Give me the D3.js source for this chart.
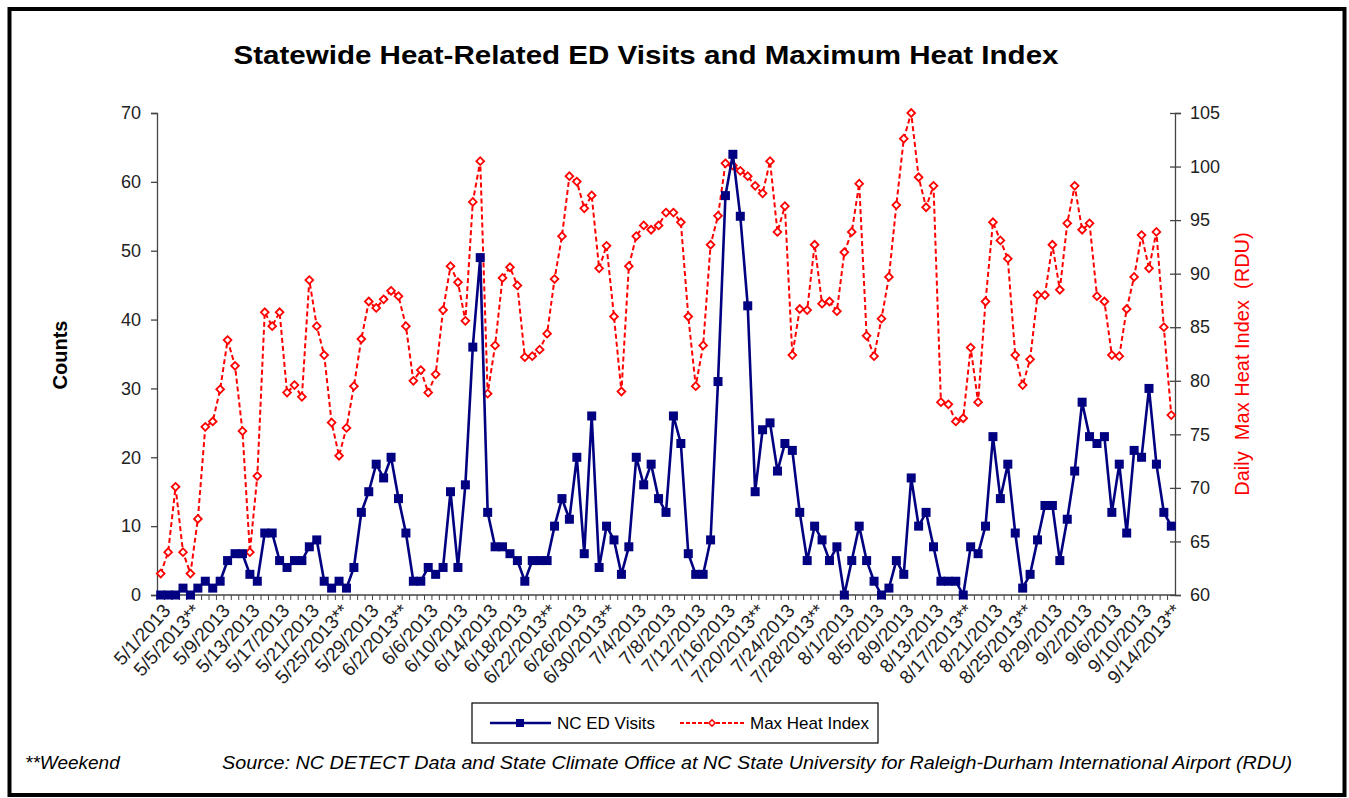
<!DOCTYPE html>
<html>
<head>
<meta charset="utf-8">
<script src="https://cdn.jsdelivr.net/npm/d3@7"></script>
<style>
  html, body { margin: 0; padding: 0; background: #fff; }
  svg { display: block; font-family: "Liberation Sans", Arial, sans-serif; }
</style>
</head>
<body>
<svg id="chart" width="1349" height="798"></svg>
<script>
// ---------------- DATA ----------------
const startDate = "2013-05-01";
const endDate = "2013-09-14";
const weekendTickDates = ["5/5/2013","5/25/2013","6/2/2013","6/22/2013","6/30/2013","7/20/2013","7/28/2013","8/17/2013","8/25/2013","9/14/2013"];

const edVisits = [
  0,0,0,1,0,1,2,1,2,5, 6,6,3,2,9,9,5,4,5,5,
  7,8,2,1,2,1,4,12,15,19, 17,20,14,9,2,2,4,3,4,15,
  4,16,36,49,12,7,7,6,5,2, 5,5,5,10,14,11,20,6,26,4,
  10,8,3,7,20,16,19,14,12,26, 22,6,3,3,8,31,58,64,55,42,
  15,24,25,18,22,21,12,5,10,8, 5,7,0,5,10,5,2,0,1,5,
  3,17,10,12,7,2,2,2,0,7, 6,10,23,14,19,9,1,3,8,13,
  13,5,11,18,28,23,22,23,12,19, 9,21,20,30,19,12,10
];

const maxHeatIndex = [
  62,64,70.1,64,62,67.1,75.7,76.2,79.2,83.8, 81.4,75.3,64,71.1,86.4,85.1,86.4,78.9,79.6,78.5,
  89.4,85.1,82.4,76.1,73,75.6,79.5,83.9,87.4,86.8, 87.6,88.4,87.9,85.1,80,81,78.9,80.6,86.6,90.7,
  89.2,85.6,96.7,100.5,78.8,83.3,89.6,90.6,88.9,82.2, 82.3,82.9,84.4,89.5,93.5,99.1,98.6,96.1,97.3,90.5,
  92.6,86,79,90.7,93.5,94.5,94.1,94.5,95.7,95.7, 94.8,86,79.5,83.3,92.7,95.4,100.3,100.1,99.6,99.1,
  98.2,97.5,100.5,93.9,96.3,82.4,86.7,86.6,92.7,87.2, 87.4,86.5,92,93.9,98.4,84.2,82.3,85.8,89.7,96.4,
  102.6,105,99,96.2,98.2,78,77.8,76.2,76.5,83.1, 78,87.4,94.8,93.1,91.4,82.4,79.6,82,88,88,
  92.7,88.5,94.7,98.2,94.1,94.7,87.9,87.4,82.4,82.3, 86.7,89.7,93.6,90.5,93.9,85,76.8
];

const leftTicks = [0,10,20,30,40,50,60,70];
const rightTicks = [60,65,70,75,80,85,90,95,100,105];

const titleText = "Statewide Heat-Related ED Visits and Maximum Heat Index";
const leftAxisTitle = "Counts";
const rightAxisTitle = "Daily  Max Heat Index  (RDU)";
const seriesNames = ["NC ED Visits", "Max Heat Index"];
const footLeft = "**Weekend";
const footSource = "Source: NC DETECT Data and State Climate Office at NC State University for Raleigh-Durham International Airport (RDU)";

// ---------------- BUILD ----------------
const parse = d3.timeParse("%Y-%m-%d");
const fmt = d => `${d.getMonth()+1}/${d.getDate()}/${d.getFullYear()}`;
const days = d3.timeDay.range(parse(startDate), d3.timeDay.offset(parse(endDate), 1));
const categories = days.map(fmt);
const tickLabel = c => weekendTickDates.includes(c) ? c + "**" : c;

const svg = d3.select("#chart");
const plot = { left: 157, right: 1175, top: 113, bottom: 595 };

const x = d3.scaleBand().domain(categories).range([plot.left, plot.right]).padding(0);
const yL = d3.scaleLinear().domain([0, 70]).range([plot.bottom, plot.top]);
const yR = d3.scaleLinear().domain([60, 105]).range([plot.bottom, plot.top]);
const cx = c => x(c) + x.bandwidth() / 2;

// outer border
svg.append("rect").attr("x", 9.5).attr("y", 9).attr("width", 1335).attr("height", 786)
  .attr("fill", "#fff").attr("stroke", "#000").attr("stroke-width", 4);

// title
svg.append("text").attr("x", 646).attr("y", 64).attr("text-anchor", "middle")
  .attr("font-size", 25).attr("font-weight", "bold").attr("fill", "#000")
  .attr("textLength", 825).attr("lengthAdjust", "spacingAndGlyphs").text(titleText);

// left axis
const gL = svg.append("g").attr("transform", `translate(${plot.left},0)`)
  .call(d3.axisLeft(yL).tickValues(leftTicks).tickSize(6).tickPadding(10).tickFormat(d3.format("d")));
gL.select(".domain").attr("stroke", "#444").attr("stroke-width", 1.3);
gL.selectAll(".tick line").attr("stroke", "#444").attr("stroke-width", 1.3);
gL.selectAll(".tick text").attr("font-size", 18).attr("fill", "#222").attr("font-family", "Liberation Sans, Arial");

// right axis
const gR = svg.append("g").attr("transform", `translate(${plot.right},0)`)
  .call(d3.axisRight(yR).tickValues(rightTicks).tickSize(6).tickPadding(9).tickFormat(d3.format("d")));
gR.select(".domain").attr("stroke", "#444").attr("stroke-width", 1.3);
gR.selectAll(".tick line").attr("x1", -5).attr("stroke", "#444").attr("stroke-width", 1.3);
gR.selectAll(".tick text").attr("font-size", 18).attr("fill", "#222").attr("font-family", "Liberation Sans, Arial");

// bottom axis: ticks at category boundaries, labels every 4th category
const gB = svg.append("g").attr("transform", `translate(0,${plot.bottom})`);
gB.append("line").attr("x1", plot.left).attr("x2", plot.right).attr("y1", 0).attr("y2", 0)
  .attr("stroke", "#444").attr("stroke-width", 1.3);
gB.selectAll("line.tk").data(categories).enter().append("line").attr("class", "tk")
  .attr("x1", c => x(c)).attr("x2", c => x(c)).attr("y1", 0).attr("y2", 5)
  .attr("stroke", "#444").attr("stroke-width", 1);
gB.selectAll("text.xl").data(categories.filter((c, i) => i % 4 === 0)).enter().append("text")
  .attr("class", "xl")
  .attr("transform", c => `translate(${cx(c) + 6},${12}) rotate(-48)`)
  .attr("text-anchor", "end").attr("dy", "0.35em")
  .attr("font-size", 19).attr("fill", "#222").text(tickLabel);

// axis titles
svg.append("text").attr("transform", "translate(67,355) rotate(-90)").attr("text-anchor", "middle")
  .attr("font-size", 20).attr("font-weight", "bold").attr("fill", "#000").text(leftAxisTitle);
svg.append("text").attr("transform", "translate(1249,364) rotate(-90)").attr("text-anchor", "middle")
  .style("white-space", "pre").attr("font-size", 20).attr("fill", "#ff0000").text(rightAxisTitle);

// series
const lineL = d3.line().x((d, i) => cx(categories[i])).y(d => yL(d));
const lineR = d3.line().x((d, i) => cx(categories[i])).y(d => yR(d));

svg.append("path").datum(maxHeatIndex).attr("d", lineR).attr("fill", "none")
  .attr("stroke", "#ff0000").attr("stroke-width", 2).attr("stroke-dasharray", "5,3");
const diamond = d3.symbol().type(d3.symbolSquare).size(30);
svg.selectAll("path.hi").data(maxHeatIndex).enter().append("path").attr("class", "hi")
  .attr("d", diamond)
  .attr("transform", (d, i) => `translate(${cx(categories[i])},${yR(d)}) rotate(45)`)
  .attr("fill", "#fff").attr("stroke", "#ff0000").attr("stroke-width", 1.8);

svg.append("path").datum(edVisits).attr("d", lineL).attr("fill", "none")
  .attr("stroke", "#000080").attr("stroke-width", 2.6);
svg.selectAll("rect.ed").data(edVisits).enter().append("rect").attr("class", "ed")
  .attr("x", (d, i) => cx(categories[i]) - 4.5).attr("y", d => yL(d) - 4.5)
  .attr("width", 9).attr("height", 9).attr("fill", "#000080");

// legend
const lg = svg.append("g");
lg.append("rect").attr("x", 472).attr("y", 703).attr("width", 406).attr("height", 40)
  .attr("fill", "#fff").attr("stroke", "#000").attr("stroke-width", 1.2);
lg.append("line").attr("x1", 490).attr("x2", 551).attr("y1", 723).attr("y2", 723)
  .attr("stroke", "#000080").attr("stroke-width", 2.5);
lg.append("rect").attr("x", 516).attr("y", 719).attr("width", 8).attr("height", 8).attr("fill", "#000080");
lg.append("text").attr("x", 557).attr("y", 729).attr("font-size", 17).attr("fill", "#000").text(seriesNames[0]);
lg.append("line").attr("x1", 680).attr("x2", 744).attr("y1", 723).attr("y2", 723)
  .attr("stroke", "#ff0000").attr("stroke-width", 2).attr("stroke-dasharray", "4,2");
lg.append("path").attr("d", d3.symbol().type(d3.symbolSquare).size(20)).attr("transform", "translate(712,723) rotate(45)")
  .attr("fill", "#fff").attr("stroke", "#ff0000").attr("stroke-width", 1.5);
lg.append("text").attr("x", 750).attr("y", 729).attr("font-size", 17).attr("fill", "#000").text(seriesNames[1]);

// footer
svg.append("text").attr("x", 25).attr("y", 769).attr("font-size", 19).attr("font-style", "italic")
  .attr("fill", "#000").text(footLeft);
svg.append("text").attr("x", 222).attr("y", 769).attr("font-size", 19).attr("font-style", "italic")
  .attr("fill", "#000").attr("textLength", 1070).attr("lengthAdjust", "spacingAndGlyphs").text(footSource);
</script>
</body>
</html>
